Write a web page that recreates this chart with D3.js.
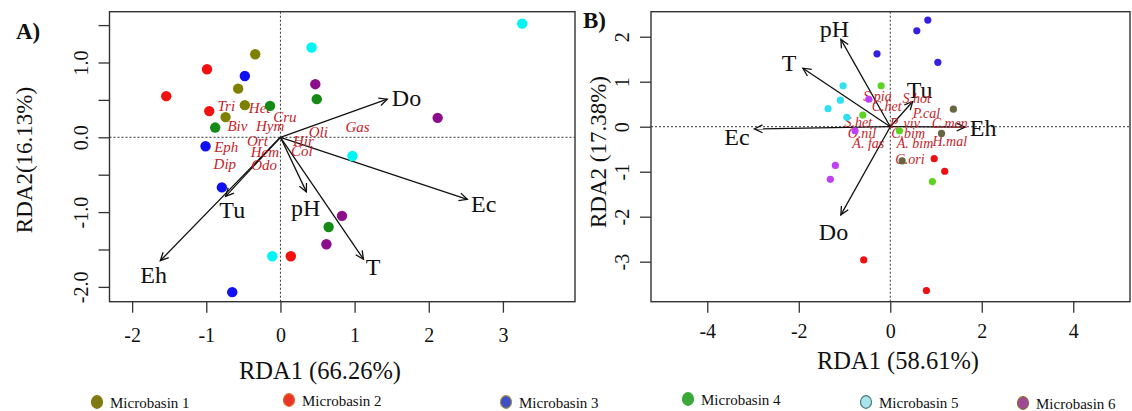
<!DOCTYPE html>
<meta charset="utf-8">
<style>
    body { margin: 0; background: #fff; }
    svg text { font-family: "Liberation Serif", "Tinos", "DejaVu Serif", serif; fill: #111; }
    .box { fill: none; stroke: #333; stroke-width: 1.4px; }
    .zero { stroke: #333; stroke-width: 1px; stroke-dasharray: 2,2; }
    .arrow { fill: none; stroke: #111; stroke-width: 1.3px; }
    .env-label { font-size: 24px; }
    svg text.species { fill: #c41e2a; font-style: italic; }
    .tick line { stroke: #333; stroke-width: 1.3px; }
    .tick-label { font-size: 20px; }
    .axis-title { font-size: 23px; }
    .axis-title.x-title { font-size: 24.5px; }
    .panel-label { font-size: 23px; font-weight: bold; }
    .legend-text { font-size: 15px; }
</style>
<body>
<svg id="chart" width="1132" height="411"></svg>

<script src="https://cdn.jsdelivr.net/npm/d3@7"></script>
<script>
    // ---- panel A (RDA1 66.26%, RDA2 16.13%) ----
    var siteAx = [-0.34, -0.57, -0.48, -0.74,   -0.99, -1.54, -0.96, 0.14,
                  -0.48, -1.01, -0.79, -0.65,   0.49, -0.14, -0.88, 0.65,
                  3.26, 0.42, 0.97, -0.11,      0.47, 2.12, 0.83, 0.62];
    var siteAy = [1.11, 0.65, 0.43, 0.27,       0.91, 0.55, 0.35, -1.59,
                  0.82, -0.12, -0.67, -2.07,    0.51, 0.42, 0.13, -1.20,
                  1.52, 1.20, -0.25, -1.59,     0.71, 0.26, -1.05, -1.43];
    var siteAgroup = [1,1,1,1, 2,2,2,2, 3,3,3,3, 4,4,4,4, 5,5,5,5, 6,6,6,6];

    var envA = ["Do", "Ec", "T", "pH", "Tu", "Eh"];
    var envAx = [1.44, 2.52, 1.12, 0.35, -0.74, -1.62];
    var envAy = [0.51, -0.83, -1.63, -0.73, -0.79, -1.65];
    var envAlabX = [1.70, 2.74, 1.25, 0.34, -0.65, -1.71];
    var envAlabY = [0.53, -0.88, -1.73, -0.94, -0.97, -1.84];

    var sppA = ["Tri", "Het", "Cru", "Biv", "Hym", "Oli", "Gas", "Ort", "Hir", "Eph", "Hem", "Col", "Dip", "Odo"];
    var sppAx = [-0.73, -0.28, 0.06, -0.58, -0.14, 0.51, 1.04, -0.31, 0.31, -0.73, -0.21, 0.29, -0.75, -0.22];
    var sppAy = [0.42, 0.40, 0.28, 0.16, 0.16, 0.07, 0.14, -0.05, -0.04, -0.13, -0.19, -0.18, -0.35, -0.37];

    var ticksAx = [-2, -1, 0, 1, 2, 3];
    var ticksAy = [-2, -1.5, -1, -0.5, 0, 0.5, 1, 1.5];

    // ---- panel B (RDA1 58.61%, RDA2 17.38%) ----
    var siteBx = [1.38, 1.12, 0.26,             0.96, 1.19, -0.58, 0.79,
                  0.82, 0.58, -0.29, 1.04,      -0.20, -0.60, 0.20, 0.92,
                  -1.03, -1.09, -1.36, -0.95,   -0.47, -0.77, -1.20, -1.31];
    var siteBy = [0.39, -0.15, -0.76,           -0.71, -0.99, -2.96, -3.64,
                  2.37, 2.13, 1.62, 1.43,       0.91, 0.26, -0.09, -1.22,
                  0.91, 0.59, 0.40, 0.21,       0.61, -0.09, -0.86, -1.17];
    var siteBgroup = [1,1,1, 2,2,2,2, 3,3,3,3, 4,4,4,4, 5,5,5,5, 6,6,6,6];

    var envB = ["pH", "T", "Tu", "Eh", "Ec", "Do"];
    var envBx = [-1.08, -1.91, 0.49, 1.63, -2.97, -1.08];
    var envBy = [1.94, 1.30, 0.56, -0.01, -0.05, -1.96];
    var envBlabX = [-1.22, -2.21, 0.64, 2.03, -3.35, -1.24];
    var envBlabY = [2.19, 1.42, 0.82, -0.03, -0.22, -2.33];

    var sppB = ["S.pia", "S.hot", "C.het", "P.cal", "S.het", "P. viv", "C.men", "O.nil", "C.bim", "H.mal", "A. fas", "A. bim", "C.ori"];
    var sppBx = [-0.28, 0.58, -0.08, 0.79, -0.70, 0.32, 1.30, -0.62, 0.39, 1.30, -0.48, 0.54, 0.43];
    var sppBy = [0.67, 0.63, 0.46, 0.31, 0.11, 0.08, 0.08, -0.15, -0.15, -0.32, -0.36, -0.36, -0.72];

    var ticksBx = [-4, -2, 0, 2, 4];
    var ticksBy = [-3, -2, -1, 0, 1, 2];

    // ---- legend ----
    var legendNames = ["Microbasin 1", "Microbasin 2", "Microbasin 3", "Microbasin 4", "Microbasin 5", "Microbasin 6"];

    // colours
    var colorsA = {1: "#808000", 2: "#f21010", 3: "#1010f0", 4: "#158a15", 5: "#00f5f5", 6: "#8b0f8b"};
    var colorsB = {1: "#66663f", 2: "#ee1010", 3: "#3320e0", 4: "#5cd321", 5: "#30e0f0", 6: "#c03ef5"};
    var legendFill = ["#807a12", "#e8342a", "#3a4fc8", "#3aa83a", "#a8e4ec", "#a04898"];
    var legendStroke = ["#807a12", "#e06a22", "#a08848", "#3aa83a", "#4a7a7a", "#8a6a30"];
    var legendX = [97, 289, 506, 688, 866, 1023];
    var legendY = [402, 400, 402, 399, 402, 403];

    var svg = d3.select("#chart");

    function zip(xs, ys, extra) {
        return xs.map((v, i) => ({x: v, y: ys[i], k: extra ? extra[i] : null}));
    }

    function arrowHead(x1, y1, x2, y2, len, ang) {
        var a = Math.atan2(y2 - y1, x2 - x1);
        return "M" + (x2 - len * Math.cos(a - ang)) + "," + (y2 - len * Math.sin(a - ang)) +
               "L" + x2 + "," + y2 +
               "L" + (x2 - len * Math.cos(a + ang)) + "," + (y2 - len * Math.sin(a + ang));
    }

    function drawPanel(p) {
        var g = svg.append("g");
        var x = d3.scaleLinear().domain(p.xDomain).range([p.left, p.right]);
        var y = d3.scaleLinear().domain(p.yDomain).range([p.bottom, p.top]);

        // dotted zero lines
        g.append("line").attr("class", "zero")
            .attr("x1", p.left).attr("x2", p.right).attr("y1", y(0)).attr("y2", y(0));
        g.append("line").attr("class", "zero")
            .attr("x1", x(0)).attr("x2", x(0)).attr("y1", p.top).attr("y2", p.bottom);

        // axes
        var ax = g.append("g")
            .attr("transform", "translate(0," + p.bottom + ")")
            .call(d3.axisBottom(x).tickValues(p.xTicks).tickSize(11).tickFormat(d => String(d)));
        ax.select(".domain").remove();
        ax.attr("font-family", null).attr("font-size", null);
        ax.selectAll("text").attr("class", "tick-label")
            .attr("y", p.xLabOff).attr("dy", 0);

        var ay = g.append("g")
            .attr("transform", "translate(" + p.left + ",0)")
            .call(d3.axisLeft(y).tickValues(p.yTicks).tickSize(11).tickFormat(p.yFmt));
        ay.select(".domain").remove();
        ay.attr("font-family", null).attr("font-size", null);
        ay.selectAll("text").attr("class", "tick-label")
            .attr("x", 0).attr("dy", 0)
            .attr("text-anchor", "middle")
            .attr("transform", "translate(" + (p.yLabX - p.left) + ",0) rotate(-90)");

        // box
        g.append("rect").attr("class", "box")
            .attr("x", p.left).attr("y", p.top)
            .attr("width", p.right - p.left).attr("height", p.bottom - p.top);

        // axis titles
        g.append("text").attr("class", "axis-title x-title")
            .attr("x", p.xTitleX).attr("y", p.xTitleY)
            .attr("text-anchor", "middle").text(p.xTitle);
        g.append("text").attr("class", "axis-title")
            .attr("transform", "translate(" + p.yTitleX + "," + p.yTitleY + ") rotate(-90)")
            .attr("text-anchor", "middle").text(p.yTitle);

        g.append("text").attr("class", "panel-label")
            .attr("x", p.tagX).attr("y", p.tagY).text(p.tag);

        // environmental arrows
        var env = zip(p.envX, p.envY, p.env);
        g.selectAll(".arrow-line")
            .data(env).enter().append("line")
            .attr("class", "arrow")
            .attr("x1", x(0)).attr("y1", y(0))
            .attr("x2", d => x(d.x)).attr("y2", d => y(d.y));
        g.selectAll(".arrow-head")
            .data(env).enter().append("path")
            .attr("class", "arrow")
            .attr("d", d => arrowHead(x(0), y(0), x(d.x), y(d.y), 9, 0.45));
        g.selectAll(".env-label")
            .data(zip(p.envLabX, p.envLabY, p.env)).enter().append("text")
            .attr("class", "env-label")
            .attr("x", d => x(d.x)).attr("y", d => y(d.y))
            .attr("dy", "0.35em").attr("text-anchor", "middle")
            .text(d => d.k);

        // species
        g.selectAll(".species")
            .data(zip(p.sppX, p.sppY, p.spp)).enter().append("text")
            .attr("class", "species")
            .attr("x", d => x(d.x)).attr("y", d => y(d.y))
            .attr("dy", "0.35em").attr("text-anchor", "middle")
            .style("font-size", p.sppSize + "px")
            .text(d => d.k);

        // sites
        g.selectAll(".site")
            .data(zip(p.siteX, p.siteY, p.siteGroup)).enter().append("circle")
            .attr("class", "site")
            .attr("cx", d => x(d.x)).attr("cy", d => y(d.y))
            .attr("r", p.r)
            .attr("fill", d => p.colors[d.k]);
    }

    drawPanel({
        left: 109.5, right: 575, top: 11.7, bottom: 301.7,
        xDomain: [-2.305, 3.972], yDomain: [-2.198, 1.679],
        xTicks: ticksAx, yTicks: ticksAy,
        yFmt: d => Number.isInteger(d) ? d.toFixed(1) : "",
        xLabOff: 40, yLabX: 88,
        xTitle: "RDA1 (66.26%)", xTitleX: 320, xTitleY: 379,
        yTitle: "RDA2(16.13%)", yTitleX: 32, yTitleY: 160,
        tag: "A)", tagX: 16, tagY: 39,
        env: envA, envX: envAx, envY: envAy, envLabX: envAlabX, envLabY: envAlabY,
        spp: sppA, sppX: sppAx, sppY: sppAy, sppSize: 15,
        siteX: siteAx, siteY: siteAy, siteGroup: siteAgroup,
        colors: colorsA, r: 5.2
    });

    drawPanel({
        left: 651, right: 1130, top: 11.7, bottom: 301.7,
        xDomain: [-5.23, 5.24], yDomain: [-3.889, 2.556],
        xTicks: ticksBx, yTicks: ticksBy,
        yFmt: d => String(d),
        xLabOff: 36, yLabX: 629,
        xTitle: "RDA1 (58.61%)", xTitleX: 898, xTitleY: 369,
        yTitle: "RDA2 (17.38%)", yTitleX: 606, yTitleY: 152,
        tag: "B)", tagX: 583, tagY: 28,
        env: envB, envX: envBx, envY: envBy, envLabX: envBlabX, envLabY: envBlabY,
        spp: sppB, sppX: sppBx, sppY: sppBy, sppSize: 14,
        siteX: siteBx, siteY: siteBy, siteGroup: siteBgroup,
        colors: colorsB, r: 3.6
    });

    // legend
    var leg = svg.append("g");
    leg.selectAll("ellipse")
        .data(legendNames).enter().append("ellipse")
        .attr("cx", (d, i) => legendX[i]).attr("cy", (d, i) => legendY[i])
        .attr("rx", 5.5).attr("ry", 6.3)
        .attr("fill", (d, i) => legendFill[i])
        .attr("stroke", (d, i) => legendStroke[i])
        .attr("stroke-width", 1.2);
    leg.selectAll("text")
        .data(legendNames).enter().append("text")
        .attr("class", "legend-text")
        .attr("x", (d, i) => legendX[i] + 13).attr("y", (d, i) => legendY[i] + 6)
        .text(d => d);
</script>
</body>
